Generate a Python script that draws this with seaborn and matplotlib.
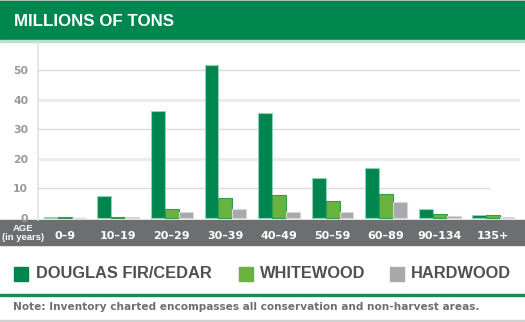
import matplotlib
matplotlib.use("Agg")
import matplotlib.pyplot as plt
from matplotlib.patches import Rectangle
import seaborn as sns
import pandas as pd

categories = ["0–9", "10–19", "20–29", "30–39", "40–49", "50–59", "60–89", "90–134", "135+"]
douglas = [0.4, 7.6, 36.2, 51.8, 35.5, 13.6, 16.8, 3.2, 1.1]
whitewood = [0.4, 0.3, 3.1, 6.9, 7.8, 5.8, 8.1, 1.4, 1.0]
hardwood = [0.1, 0.3, 2.1, 3.1, 1.9, 2.0, 5.3, 0.7, 0.3]
series_names = ["DOUGLAS FIR/CEDAR", "WHITEWOOD", "HARDWOOD"]
yticks = [10, 20, 30, 40, 50]
title = "MILLIONS OF TONS"
note = "Note: Inventory charted encompasses all conservation and non-harvest areas."

colors = ["#00854f", "#6ab23e", "#a7a9ac"]
edges = ["#8fd3b4", "#2f9d50", "#d6d7d9"]

rows = []
for name, vals in zip(series_names, [douglas, whitewood, hardwood]):
    for c, v in zip(categories, vals):
        rows.append({"age": c, "value": v, "series": name})
df = pd.DataFrame(rows)

sns.set_style("white")
plt.rcParams["font.family"] = ["DejaVu Sans"]
ARIAL = ["Liberation Sans", "DejaVu Sans"]

W, H = 525, 322
fig = plt.figure(figsize=(W / 100, H / 100), dpi=100)

def fx(x):
    return x / W

def fy(y):
    return 1 - y / H

def band(y0, y1, color):
    fig.patches.append(Rectangle((0, fy(y1)), 1, (y1 - y0) / H, transform=fig.transFigure,
                                 color=color, zorder=-5))

# background elements
band(0, 1, "#d0d0d0")
band(1, 40, "#00864f")
band(40, 41.5, "#b9e0cf")
band(220, 245, "#6d6e70")
band(294, 295.5, "#1a8a5a")
band(320, 322, "#d0d0d0")

fig.text(fx(14), fy(21), title, color="white", fontsize=12.2, fontweight="bold",
         family=ARIAL, va="center", ha="left", zorder=10)

left, right, top, bottom = 38, 520, 42, 219.5
ax = fig.add_axes([fx(left), fy(bottom), fx(right - left), (bottom - top) / H])
ax.set_zorder(2)
ax.patch.set_alpha(0)

sns.barplot(data=df, x="age", y="value", hue="series", order=categories,
            hue_order=series_names, palette=colors, width=0.78, saturation=1,
            legend=False, ax=ax, zorder=3)

for i, name in enumerate(series_names):
    for bar in ax.containers[i]:
        bar.set_edgecolor(edges[i])
        bar.set_linewidth(0.8)

ymin = -0.5
ymax = (218 - 42) / 2.955
ax.set_ylim(ymin, ymax)
ax.set_xlim(-0.5, len(categories) - 0.5)

for t in yticks:
    if t in (20, 40):
        ax.axhline(t, color="#ececec", lw=2.2, zorder=1)
    elif t == 10:
        ax.axhline(t, color="#dcdcdc", lw=1, zorder=1, xmax=(489 - left) / (right - left))
    else:
        ax.axhline(t, color="#dcdcdc", lw=1, zorder=1)

for s in ["top", "right", "bottom"]:
    ax.spines[s].set_visible(False)
ax.spines["left"].set_color("#e2e2e2")
ax.spines["left"].set_linewidth(1.2)

ax.set_yticks([0] + yticks)
ax.set_yticklabels([str(v) for v in [0] + yticks], color="#9a9a9a", fontsize=7.8,
                   fontweight="bold")
ax.tick_params(axis="y", length=0, pad=7)
ax.set_xticks(range(len(categories)))
ax.set_xticklabels(categories, color="white", fontsize=8.0, fontweight="bold")
ax.tick_params(axis="x", length=0, pad=8)
ax.set_xlabel("")
ax.set_ylabel("")

fig.text(fx(23.5), fy(228.5), "AGE", color="white", fontsize=6.8, fontweight="bold",
         family=ARIAL, ha="center", va="center", zorder=10)
fig.text(fx(23.5), fy(237.5), "(in years)", color="white", fontsize=6.8, fontweight="bold",
         family=ARIAL, ha="center", va="center", zorder=10)

# legend
leg_items = [(14, 36, series_names[0]), (239, 260, series_names[1]), (390, 411, series_names[2])]
for (x0, xt, name), c in zip(leg_items, colors):
    fig.patches.append(Rectangle((fx(x0), fy(281)), 14 / W, 14 / H,
                                 transform=fig.transFigure, color=c, zorder=5))
    fig.text(fx(xt), fy(274), name, color="#505052", fontsize=11.8,
             fontweight="bold", family=ARIAL, ha="left", va="center", zorder=10)

fig.text(fx(13), fy(307.5), note, color="#6d6e70", fontsize=7.55, fontweight="bold",
         ha="left", va="center", zorder=10)

fig.savefig("out.png", dpi=100)
